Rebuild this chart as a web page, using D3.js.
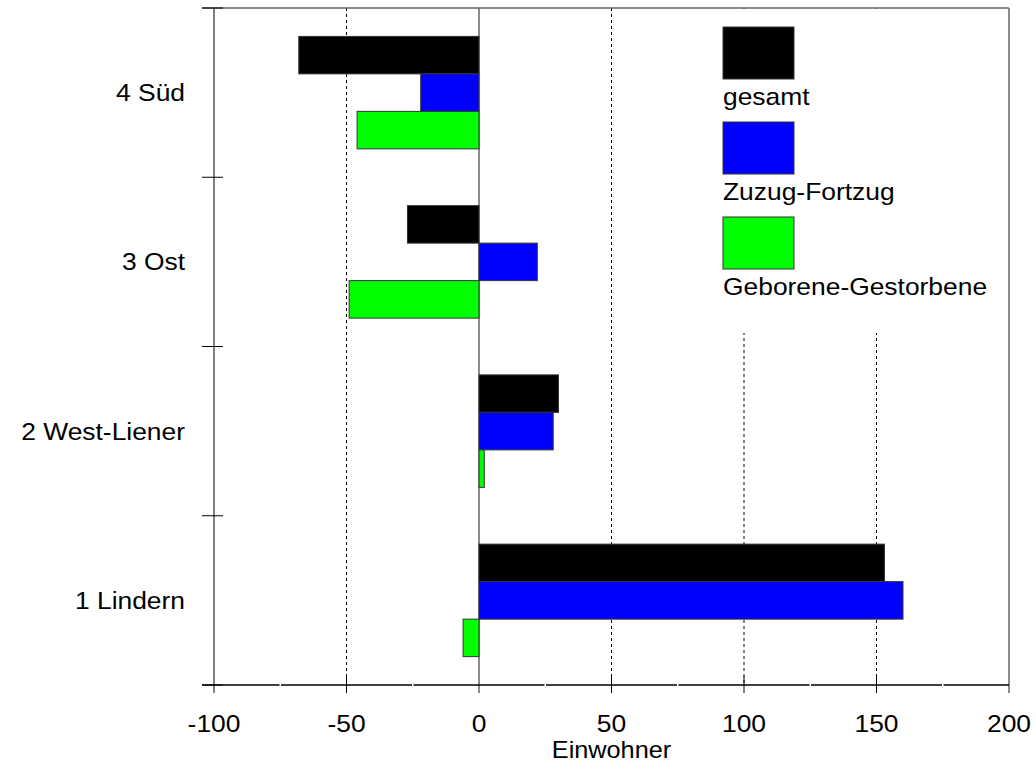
<!DOCTYPE html>
<html><head><meta charset="utf-8">
<script src="https://cdn.jsdelivr.net/npm/d3@7"></script>
<style>body{margin:0;background:#fff}text{font-family:"Liberation Sans",Arial,sans-serif;fill:#000}</style>
</head><body><svg id="c" width="1036" height="770"></svg>
<script>
const categories = ["4 Süd", "3 Ost", "2 West-Liener", "1 Lindern"];
const seriesNames = ["gesamt", "Zuzug-Fortzug", "Geborene-Gestorbene"];
const seriesColors = ["#000000", "#0000ff", "#00ff00"];
const gesamt = [-68, -27, 30, 153];
const zuzugFortzug = [-22, 22, 28, 160];
const geboreneGestorbene = [-46, -49, 2, -6];
const xTicks = [-100, -50, 0, 50, 100, 150, 200];
const gridTicks = [-50, 50, 100, 150];
const minorTicks = [-75, -25, 25, 75, 125, 175];
const xTitle = "Einwohner";

const values = [gesamt, zuzugFortzug, geboreneGestorbene];
const svg = d3.select("#c");
const L = 214, R = 1009, T = 8, B = 685;
const x = d3.scaleLinear().domain([-100, 200]).range([L, R]);
const y = d3.scaleBand().domain(categories).range([T, B]).padding(0);
const ys = d3.scaleBand().domain(seriesNames).range([0, y.bandwidth()]).paddingInner(0).paddingOuter(0.757);
const SX = 1.1;
function stext(g, tx, ty, str, size, anchor) {
  return g.append("text").attr("transform", `translate(${tx},${ty}) scale(${SX},1)`)
    .attr("text-anchor", anchor).attr("font-size", size).text(str);
}

// grid lines (dotted)
svg.append("g").selectAll("line").data(gridTicks).join("line")
  .attr("x1", d => x(d)).attr("x2", d => x(d)).attr("y1", T).attr("y2", B)
  .attr("stroke", "#000").attr("stroke-width", 1).attr("stroke-dasharray", "3,3");

// legend background hides grid
svg.append("rect").attr("x", 705).attr("y", T + 1).attr("width", R - 706).attr("height", 324).attr("fill", "#fff");

// zero line
svg.append("line").attr("x1", x(0)).attr("x2", x(0)).attr("y1", T).attr("y2", B + 8)
  .attr("stroke", "#666").attr("stroke-width", 1.5);

// bars
const gBars = svg.append("g");
categories.forEach((c, i) => {
  seriesNames.forEach((s, j) => {
    const v = values[j][i];
    gBars.append("rect")
      .attr("x", x(Math.min(0, v))).attr("width", Math.abs(x(v) - x(0)))
      .attr("y", y(c) + ys(s)).attr("height", ys.bandwidth())
      .attr("fill", seriesColors[j]).attr("stroke", "#333").attr("stroke-width", 1);
  });
});

// frame
svg.append("line").attr("x1", 202).attr("x2", R).attr("y1", T).attr("y2", T).attr("stroke", "#666").attr("stroke-width", 1.5);
svg.append("line").attr("x1", R).attr("x2", R).attr("y1", T).attr("y2", B + 8).attr("stroke", "#666").attr("stroke-width", 1.5);
svg.append("line").attr("x1", L).attr("x2", L).attr("y1", T).attr("y2", B + 8).attr("stroke", "#555").attr("stroke-width", 1.5);

// x axis
svg.append("line").attr("x1", 202).attr("x2", R).attr("y1", B).attr("y2", B).attr("stroke", "#000").attr("stroke-width", 1.5);
svg.append("g").selectAll("line").data(xTicks.filter(d => d !== -100 && d !== 0 && d !== 200)).join("line")
  .attr("x1", d => x(d)).attr("x2", d => x(d)).attr("y1", B - 9).attr("y2", B + 8).attr("stroke", "#000");
svg.append("g").selectAll("line").data(minorTicks).join("line")
  .attr("x1", d => x(d)).attr("x2", d => x(d)).attr("y1", B - 1).attr("y2", B + 1).attr("stroke", "#fff").attr("stroke-width", 1.5);
const gx = svg.append("g");
xTicks.forEach(t => stext(gx, x(t), 732, String(t), 24, "middle"));
stext(gx, (L + R) / 2, 758, xTitle, 23, "middle");

// y axis ticks at band boundaries
const bounds = categories.map(c => y(c)).concat([B]);
svg.append("g").selectAll("line").data(bounds).join("line")
  .attr("x1", 202).attr("x2", 223).attr("y1", d => d).attr("y2", d => d).attr("stroke", "#000");
const gy = svg.append("g");
categories.forEach(c => stext(gy, 185, y(c) + y.bandwidth() / 2 + 8.5, c, 24, "end"));

// legend
const gl = svg.append("g");
seriesNames.forEach((s, j) => {
  const top = 27 + j * 95;
  gl.append("rect").attr("x", 723).attr("y", top).attr("width", 71).attr("height", 52)
    .attr("fill", seriesColors[j]).attr("stroke", "#333").attr("stroke-width", 1);
  stext(gl, 723, top + 78, s, 24, "start");
});
</script></body></html>
